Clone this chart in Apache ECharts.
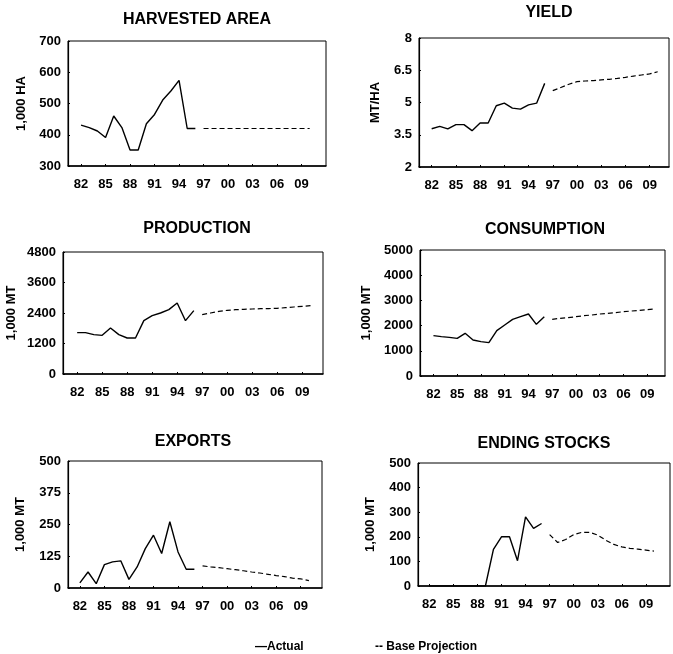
<!DOCTYPE html>
<html>
<head>
<meta charset="utf-8">
<script src="https://cdn.jsdelivr.net/npm/echarts@6/dist/echarts.min.js"></script>
<style>
  html, body { margin: 0; padding: 0; background: #fff; }
  #chart { width: 673px; height: 654px; }
</style>
</head>
<body>
<div id="chart"></div>
<script>
// Marketing years (two-digit labels on the x axes)
const actualYears = [1982, 1983, 1984, 1985, 1986, 1987, 1988, 1989, 1990, 1991, 1992, 1993, 1994, 1995, 1996];
const projYears = [1997, 1998, 1999, 2000, 2001, 2002, 2003, 2004, 2005, 2006, 2007, 2008, 2009, 2010];
const xTickYears = [1982, 1985, 1988, 1991, 1994, 1997, 2000, 2003, 2006, 2009];

// Harvested area, 1,000 HA
const areaActual = [431, 423, 412, 391, 460, 423, 351, 351, 435, 465, 511, 540, 574, 420, 420];
const areaProj = [420, 420, 420, 420, 420, 420, 420, 420, 420, 420, 420, 420, 420, 420];
const areaTicks = [300, 400, 500, 600, 700];

// Yield, MT/HA
const yieldActual = [3.78, 3.89, 3.77, 3.97, 3.97, 3.69, 4.05, 4.05, 4.85, 4.97, 4.74, 4.69, 4.89, 4.97, 5.89];
const yieldProj = [5.55, 5.70, 5.85, 5.97, 6.00, 6.02, 6.05, 6.08, 6.12, 6.17, 6.23, 6.28, 6.33, 6.43];
const yieldTicks = [2, 3.5, 5, 6.5, 8];

// Production, 1,000 MT
const prodActual = [1626, 1626, 1548, 1521, 1810, 1548, 1416, 1416, 2098, 2295, 2400, 2531, 2793, 2098, 2492];
const prodProj = [2334, 2400, 2465, 2505, 2531, 2545, 2557, 2570, 2575, 2583, 2610, 2636, 2662, 2688];
const prodTicks = [0, 1200, 2400, 3600, 4800];

// Consumption, 1,000 MT
const consActual = [1600, 1561, 1534, 1495, 1693, 1429, 1362, 1323, 1799, 2024, 2249, 2354, 2460, 2050, 2354];
const consProj = [2249, 2288, 2315, 2354, 2394, 2420, 2460, 2487, 2513, 2553, 2579, 2606, 2632, 2659];
const consTicks = [0, 1000, 2000, 3000, 4000, 5000];

// Exports, 1,000 MT
const expActual = [20, 63, 17, 92, 103, 107, 34, 83, 155, 208, 136, 261, 142, 74, 74];
const expProj = [87, 83, 80, 76, 72, 68, 63, 59, 54, 49, 45, 39, 36, 29];
const expTicks = [0, 125, 250, 375, 500];

// Ending stocks, 1,000 MT
const stockActual = [0, 0, 0, 0, 0, 0, 0, 0, 149, 200, 200, 103, 281, 234, 254];
const stockProj = [209, 177, 189, 209, 218, 218, 207, 186, 169, 159, 153, 150, 146, 142];
const stockTicks = [0, 100, 200, 300, 400, 500];

const FONT = '"Liberation Sans", Arial, sans-serif';

// Panel layout: plot rectangle, x range, axis title and its gap
const panels = [
  { title: 'HARVESTED AREA', tx: 197, ty: 20, rect: [68, 41, 258, 125], xr: [1980.4, 2012.0],
    yName: '1,000 HA', gap: 40, ticks: areaTicks, actual: areaActual, proj: areaProj },
  { title: 'YIELD', tx: 549, ty: 13, rect: [419, 38, 250, 129], xr: [1980.43, 2011.4],
    yName: 'MT/HA', gap: 37, ticks: yieldTicks, actual: yieldActual, proj: yieldProj },
  { title: 'PRODUCTION', tx: 197, ty: 229, rect: [63, 252, 260, 122], xr: [1980.3, 2011.5],
    yName: '1,000 MT', gap: 45, ticks: prodTicks, actual: prodActual, proj: prodProj },
  { title: 'CONSUMPTION', tx: 545, ty: 230, rect: [420, 250, 245, 126], xr: [1980.3, 2011.25],
    yName: '1,000 MT', gap: 47, ticks: consTicks, actual: consActual, proj: consProj },
  { title: 'EXPORTS', tx: 193, ty: 442, rect: [68, 461, 254, 127], xr: [1980.55, 2011.6],
    yName: '1,000 MT', gap: 41, ticks: expTicks, actual: expActual, proj: expProj },
  { title: 'ENDING STOCKS', tx: 544, ty: 444, rect: [418, 463, 252, 123], xr: [1980.6, 2012.0],
    yName: '1,000 MT', gap: 41, ticks: stockTicks, actual: stockActual, proj: stockProj }
];

const pairs = (years, vals) => years.map((y, i) => [y, vals[i]]);

const grid = [], xAxis = [], yAxis = [], series = [], graphic = [];

panels.forEach((p, i) => {
  grid.push({
    left: p.rect[0], top: p.rect[1], width: p.rect[2], height: p.rect[3],
    show: true, borderColor: '#000', borderWidth: 1, backgroundColor: 'transparent'
  });
  xAxis.push({
    type: 'value', gridIndex: i, min: p.xr[0], max: p.xr[1],
    axisLine: { show: true, onZero: false, lineStyle: { color: '#000', width: 1.5 } },
    axisTick: { show: true, inside: true, length: 2, customValues: xTickYears, lineStyle: { color: '#000' } },
    splitLine: { show: false },
    axisLabel: {
      customValues: xTickYears, margin: 12, color: '#000',
      fontFamily: FONT, fontWeight: 'bold', fontSize: 13,
      formatter: v => String(Math.round(v)).slice(2)
    }
  });
  const lo = p.ticks[0], hi = p.ticks[p.ticks.length - 1];
  yAxis.push({
    type: 'value', gridIndex: i, min: lo, max: hi,
    name: p.yName, nameLocation: 'middle', nameGap: p.gap,
    nameTextStyle: { color: '#000', fontFamily: FONT, fontWeight: 'bold', fontSize: 13 },
    axisLine: { show: true, lineStyle: { color: '#000', width: 1.2 } },
    axisTick: { show: true, inside: true, length: 2, customValues: p.ticks, lineStyle: { color: '#000' } },
    splitLine: { show: false },
    axisLabel: {
      customValues: p.ticks, margin: 7, color: '#000',
      fontFamily: FONT, fontWeight: 'bold', fontSize: 13,
      formatter: v => String(v)
    }
  });
  series.push({
    name: 'Actual', type: 'line', xAxisIndex: i, yAxisIndex: i,
    data: pairs(actualYears, p.actual), showSymbol: false, silent: true,
    lineStyle: { color: '#000', width: 1.4 }, z: 3
  });
  series.push({
    name: 'Base Projection', type: 'line', xAxisIndex: i, yAxisIndex: i,
    data: pairs(projYears, p.proj), showSymbol: false, silent: true,
    lineStyle: { color: '#000', width: 1.2, type: [5, 3] }, z: 3
  });
  graphic.push({
    type: 'text', x: p.tx, y: p.ty,
    style: { text: p.title, fill: '#000', font: 'bold 16px ' + FONT,
             textAlign: 'center', textVerticalAlign: 'middle' }
  });
});

// Line-style key at the bottom
graphic.push({
  type: 'text', x: 255, y: 647,
  style: { text: '—Actual', fill: '#000', font: 'bold 12px ' + FONT, textVerticalAlign: 'middle' }
});
graphic.push({
  type: 'text', x: 375, y: 647,
  style: { text: '-- Base Projection', fill: '#000', font: 'bold 12px ' + FONT, textVerticalAlign: 'middle' }
});

const chart = echarts.init(document.getElementById('chart'), null, { renderer: 'canvas' });
chart.setOption({
  animation: false,
  backgroundColor: '#fff',
  grid, xAxis, yAxis, series, graphic
});
</script>
</body>
</html>
